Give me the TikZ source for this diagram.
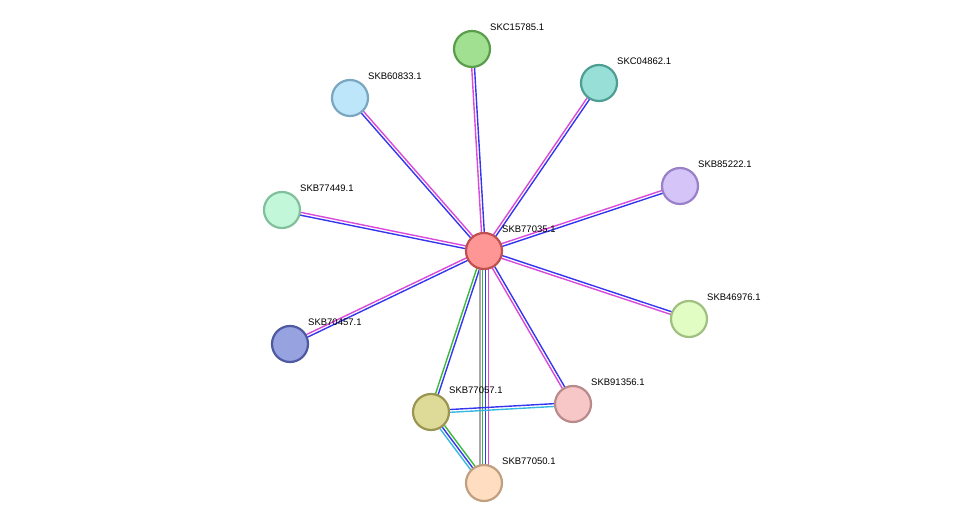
\documentclass[tikz,border=0pt]{standalone}
\usepackage{fontspec}
\setmainfont{Liberation Sans}
\usetikzlibrary{calc}
\definecolor{eblue}{HTML}{3535F0}
\definecolor{emag}{HTML}{D94AD9}
\definecolor{egreen}{HTML}{3CB83C}
\definecolor{ecyan}{HTML}{38B8E0}
\definecolor{egrey}{HTML}{A8A8A8}
\newcommand{\edge}[4]{%
  \foreach \col [count=\i] in {#4} {
    \pgfmathsetmacro{\off}{(\i-(#3+1)/2)*2.8}
    \draw[\col, line width=1.4pt] ($(#1)!\off pt!90:(#2)$) -- ($(#2)!\off pt!-90:(#1)$);
  }}
\newcommand{\protcol}[3]{\definecolor{f#1}{HTML}{#2}\definecolor{d#1}{HTML}{#3}}
\protcol{77035}{FF9696}{C05050}
\protcol{15785}{A0E090}{5A9E4C}
\protcol{04862}{98E0D7}{4E9E94}
\protcol{60833}{BEE6FB}{7AA6C0}
\protcol{85222}{D4C4F8}{9A80C8}
\protcol{77449}{C3F7DA}{80C09A}
\protcol{46976}{E2FDC4}{A0C080}
\protcol{70457}{97A2E0}{4E5AA0}
\protcol{77057}{DEDB98}{9A9550}
\protcol{91356}{F7C7C7}{B88A8A}
\protcol{77050}{FEDDC0}{C0A080}
\begin{document}
\begin{tikzpicture}[x=1pt, y=-1pt]
  \tikzstyle{prot}=[circle, draw, line width=2.2pt, minimum size=36pt, inner sep=0pt]
  \tikzstyle{lbl}=[anchor=west, inner sep=0pt, font=\fontsize{9.5}{11}\selectfont]
  \useasboundingbox (0,0) rectangle (975,529);

  % protein positions
  \coordinate (p77035) at (484,251);
  \coordinate (p15785) at (472,49);
  \coordinate (p04862) at (599,83);
  \coordinate (p60833) at (350,98);
  \coordinate (p85222) at (680,186);
  \coordinate (p77449) at (282,210);
  \coordinate (p46976) at (689,319);
  \coordinate (p70457) at (290,344);
  \coordinate (p77057) at (431,412);
  \coordinate (p91356) at (573,404);
  \coordinate (p77050) at (484,483);

  % edges
  \edge{p77035}{p15785}{2}{eblue,emag}
  \edge{p77035}{p04862}{2}{eblue,emag}
  \edge{p77035}{p60833}{2}{emag,eblue}
  \edge{p77035}{p85222}{2}{eblue,emag}
  \edge{p77035}{p77449}{2}{emag,eblue}
  \edge{p77035}{p46976}{2}{emag,eblue}
  \edge{p77035}{p70457}{2}{emag,eblue}
  \edge{p77035}{p91356}{2}{emag,eblue}
  \edge{p77035}{p77057}{2}{egreen,eblue}
  \edge{p77035}{p77050}{4}{egrey,egreen,eblue,emag}
  \edge{p77057}{p91356}{2}{ecyan,eblue}
  \edge{p77057}{p77050}{3}{ecyan,eblue,egreen}

  % proteins and labels
  \foreach \n/\t in {77035/SKB77035.1, 15785/SKC15785.1, 04862/SKC04862.1,
    60833/SKB60833.1, 85222/SKB85222.1, 77449/SKB77449.1, 46976/SKB46976.1,
    70457/SKB70457.1, 77057/SKB77057.1, 91356/SKB91356.1, 77050/SKB77050.1}
  {
    \node[prot, fill=f\n, draw=d\n] (n\n) at (p\n) {};
    \node[lbl] (l\n) at ($(p\n)+(18,-22)$) {\t};
  }
\end{tikzpicture}
\end{document}
